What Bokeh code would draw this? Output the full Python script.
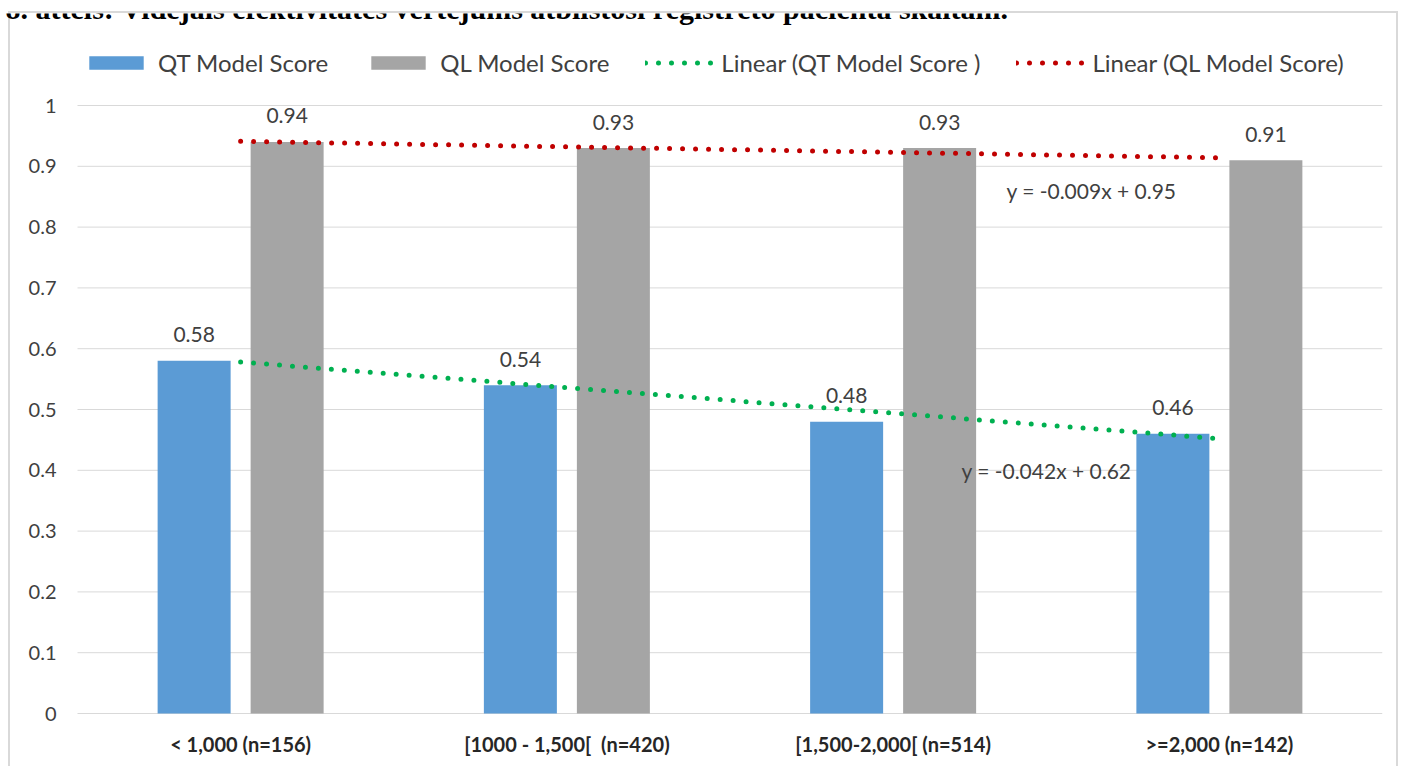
import numpy as np
from bokeh.plotting import figure
from bokeh.models import (ColumnDataSource, Legend, LegendItem, FixedTicker, Label)
from bokeh.core.properties import value
from bokeh.embed import file_html
from bokeh.resources import INLINE

# ---------------- data ----------------
title_text = "8. attēls: Vidējais efektivitātes vērtējums atbilstoši reģistrēto pacienta skaitam."
categories = ["< 1,000 (n=156)", "[1000 - 1,500[\u00a0 (n=420)",
              "[1,500-2,000[ (n=514)", ">=2,000 (n=142)"]
qt_scores = [0.58, 0.54, 0.48, 0.46]
ql_scores = [0.94, 0.93, 0.93, 0.91]
series_names = ["QT Model Score", "QL Model Score",
                "Linear (QT Model Score )", "Linear (QL Model Score)"]
y_ticks = [0, 0.1, 0.2, 0.3, 0.4, 0.5, 0.6, 0.7, 0.8, 0.9, 1]
y_tick_labels = ["0", "0.1", "0.2", "0.3", "0.4", "0.5", "0.6", "0.7", "0.8", "0.9", "1"]

# ---------------- styling / layout ----------------
BLUE = "#5b9bd5"
GRAY = "#a5a5a5"
GREEN = "#00b050"
RED = "#c00000"
GRID = "#d9d9d9"
TXT = "#404040"
FONT = value("Lato")

PLOT_L, PLOT_R, FRAME_T, ZERO_Y = 77, 1382, 13, 713   # plot area (page px)
FRAME_B = 727                                          # frame reaches a bit below 0
FIG_W, FIG_H = 1399, 766
PX_PER_X = (PLOT_R - PLOT_L) / 4.0
PX_PER_Y = 608.0
Y_END = 1 + (105 - FRAME_T) / PX_PER_Y
Y_START = -(FRAME_B - ZERO_Y) / PX_PER_Y


def px_x(page_x):
    return 0.5 + (page_x - PLOT_L) / PX_PER_X


def px_y(page_y):
    return (ZERO_Y - page_y) / PX_PER_Y


X_START = px_x(0)
X_END = 4.5

x = np.arange(1, len(categories) + 1)
offset = 46.5 / PX_PER_X
bar_w = 73 / PX_PER_X

qt_src = ColumnDataSource(dict(x=x - offset, top=qt_scores,
                               lbl=[f"{v:.2f}" for v in qt_scores]))
ql_src = ColumnDataSource(dict(x=x + offset, top=ql_scores,
                               lbl=[f"{v:.2f}" for v in ql_scores]))

# linear trend lines (least squares, as Excel does)
m_qt, b_qt = np.polyfit(x, qt_scores, 1)
m_ql, b_ql = np.polyfit(x, ql_scores, 1)
tx = np.array([x[0], x[-1]], dtype=float)

# light grey outer box of the chart area, painted behind the transparent canvas
g = f"linear-gradient({GRID}, {GRID})"
border_css = (f"{g} 8px 11px / 1390px 2px no-repeat, "
              f"{g} 8px 11px / 2px 800px no-repeat, "
              f"{g} 1396px 11px / 2px 800px no-repeat, white")

p = figure(frame_width=PLOT_R, frame_height=FRAME_B - FRAME_T,
           x_range=(X_START, X_END), y_range=(Y_START, Y_END),
           min_border_left=0, min_border_right=FIG_W - PLOT_R,
           min_border_top=FRAME_T, min_border_bottom=FIG_H - FRAME_B,
           styles={"background": border_css},
           output_backend="svg", toolbar_location=None)
p.outline_line_color = None
p.background_fill_alpha = 0
p.border_fill_alpha = 0
p.xgrid.visible = False
p.ygrid.visible = False
p.yaxis.visible = False

# horizontal gridlines over the plot area
p.segment(x0=[0.5] * len(y_ticks), x1=[X_END] * len(y_ticks),
          y0=y_ticks, y1=y_ticks, line_color=GRID, line_width=1)

# value axis labels
p.text(x=[px_x(56)] * len(y_ticks), y=y_ticks, text=y_tick_labels,
       text_align="right", text_baseline="middle", text_font=FONT,
       text_font_size="20px", text_color=TXT)

# category axis
p.xaxis.ticker = FixedTicker(ticks=list(x))
p.xaxis.major_label_overrides = {int(i): c for i, c in zip(x, categories)}
p.xaxis.axis_line_color = None
p.xaxis.major_tick_line_color = None
p.xaxis.minor_tick_line_color = None
p.xaxis.major_tick_out = 0
p.xaxis.major_label_standoff = 18 - (FRAME_B - ZERO_Y)
p.xaxis.major_label_text_font = "Lato"
p.xaxis.major_label_text_font_style = "bold"
p.xaxis.major_label_text_font_size = "20px"
p.xaxis.major_label_text_color = "#262626"

# bars
r_qt = p.vbar(x="x", top="top", bottom=0, width=bar_w, source=qt_src,
              fill_color=BLUE, line_color=None)
r_ql = p.vbar(x="x", top="top", bottom=0, width=bar_w, source=ql_src,
              fill_color=GRAY, line_color=None)

# trend lines
r_tqt = p.line(tx, m_qt * tx + b_qt, line_color=GREEN, line_width=5,
               line_dash="0 13", line_cap="round")
r_tql = p.line(tx, m_ql * tx + b_ql, line_color=RED, line_width=5,
               line_dash="0 13", line_cap="round")

# data labels
for src in (qt_src, ql_src):
    p.text(x="x", y="top", text="lbl", source=src, text_align="center",
           text_baseline="alphabetic", y_offset=-26, text_font=FONT,
           text_font_size="21px", text_color=TXT)

# equation labels
eq_qt = f"y = {m_qt:.3f}x + {b_qt:.2f}"
eq_ql = f"y = {m_ql:.3f}x + {b_ql:.2f}"
p.add_layout(Label(x=px_x(1091), y=px_y(190), text=eq_ql, text_align="center",
                   text_baseline="middle", text_font="Lato",
                   text_font_size="21px", text_color=TXT))
p.add_layout(Label(x=px_x(1046), y=px_y(470), text=eq_qt, text_align="center",
                   text_baseline="middle", text_font="Lato",
                   text_font_size="21px", text_color=TXT))

# partly visible caption above the chart
p.add_layout(Label(x=px_x(5), y=px_y(8), text=title_text, text_align="left",
                   text_baseline="alphabetic", text_font="Liberation Serif",
                   text_font_style="bold", text_font_size="30px",
                   text_color="black"))

# legend
legend = Legend(items=[LegendItem(label=series_names[0], renderers=[r_qt]),
                       LegendItem(label=series_names[1], renderers=[r_ql]),
                       LegendItem(label=series_names[2], renderers=[r_tqt]),
                       LegendItem(label=series_names[3], renderers=[r_tql])],
                orientation="horizontal",
                location=(PLOT_L + 5, 636 + (FRAME_B - ZERO_Y)),
                glyph_width=68, glyph_height=17, label_standoff=8, spacing=36,
                padding=0, margin=0, border_line_color=None,
                background_fill_alpha=0, label_text_font="Lato",
                label_text_font_size="24px", label_text_color=TXT)
p.add_layout(legend)

open("out.html", "w").write(file_html(p, INLINE))
